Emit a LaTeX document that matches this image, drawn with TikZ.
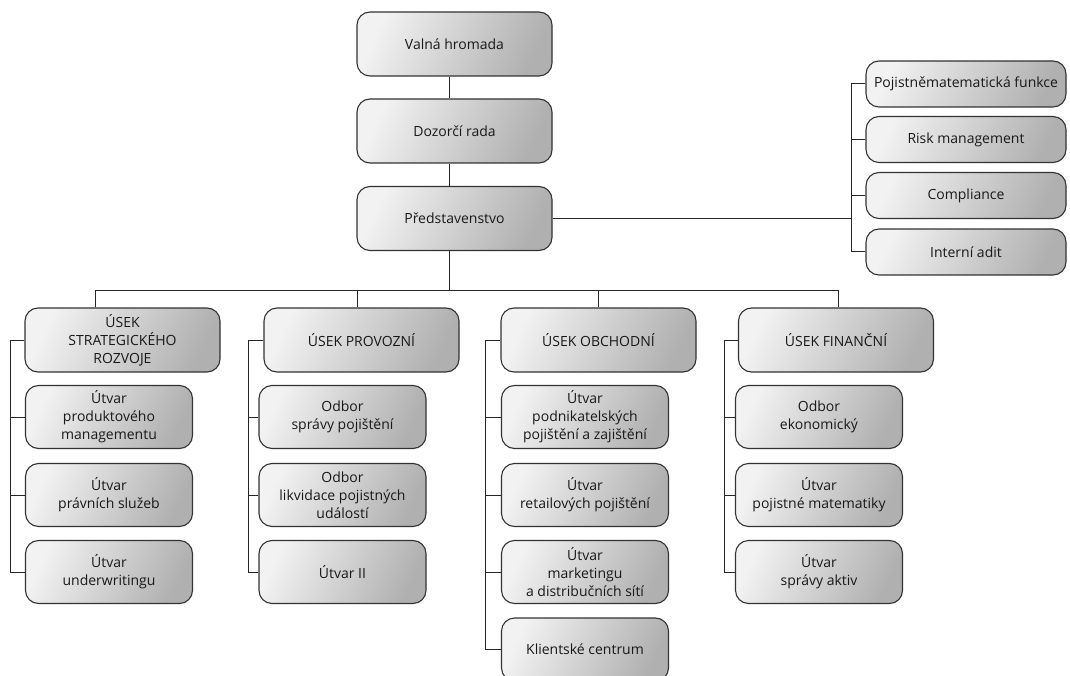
\documentclass[tikz,border=0pt]{standalone}
\usepackage{fontspec}
\setmainfont{Open Sans}
\begin{document}
\begin{tikzpicture}[x=1pt,y=-1pt,
  box/.style={draw=black!80, line width=1.1pt, rounded corners=13pt,
    left color=gray!10, right color=gray!62, shading angle=65,
    align=center, inner sep=2pt,
    font=\fontsize{14}{18}\selectfont, text=black!90},
  topbox/.style={box, minimum width=195pt, minimum height=64pt},
  headbox/.style={box, minimum width=195pt, minimum height=64pt},
  subbox/.style={box, minimum width=167pt, minimum height=63pt},
  sidebox/.style={box, minimum width=200pt, minimum height=46pt},
  conn/.style={draw=black!85, line width=1pt}]
\useasboundingbox (0,0) rectangle (1070,676);

% top
\node[topbox] (valna) at (454.5,44) {Valná hromada};
\node[topbox] (dozor) at (454.5,131) {Dozorčí rada};
\node[topbox] (pred) at (454.5,218.5) {Představenstvo};

% side
\node[sidebox] (s1) at (966,84) {Pojistněmatematická funkce};
\node[sidebox] (s2) at (966,139.5) {Risk management};
\node[sidebox] (s3) at (966,195.5) {Compliance};
\node[sidebox] (s4) at (966,252) {Interní adit};

% headers
\node[headbox] (h1) at (122.5,340) {ÚSEK\\STRATEGICKÉHO\\ROZVOJE};
\node[headbox] (h2) at (361.5,340) {ÚSEK PROVOZNÍ};
\node[headbox] (h3) at (598.5,340) {ÚSEK OBCHODNÍ};
\node[headbox] (h4) at (836,340) {ÚSEK FINANČNÍ};

% column 1
\node[subbox] (a1) at (109,417) {Útvar\\produktového\\managementu};
\node[subbox] (a2) at (109,495) {Útvar\\právních služeb};
\node[subbox] (a3) at (109,572) {Útvar\\underwritingu};
% column 2
\node[subbox] (b1) at (342.5,417) {Odbor\\správy pojištění};
\node[subbox] (b2) at (342.5,495) {Odbor\\likvidace pojistných\\událostí};
\node[subbox] (b3) at (342.5,572) {Útvar II};
% column 3
\node[subbox] (c1) at (585,417) {Útvar\\podnikatelských\\pojištění a zajištění};
\node[subbox] (c2) at (585,495) {Útvar\\retailových pojištění};
\node[subbox] (c3) at (585,572) {Útvar\\marketingu\\a distribučních sítí};
\node[subbox] (c4) at (585,649.5) {Klientské centrum};
% column 4
\node[subbox] (d1) at (819,417) {Odbor\\ekonomický};
\node[subbox] (d2) at (819,495) {Útvar\\pojistné matematiky};
\node[subbox] (d3) at (819,572) {Útvar\\správy aktiv};

% helper coordinates
\coordinate (tx) at (449,0);
\coordinate (bus) at (0,290);
\coordinate (sx) at (851,0);
\coordinate (k1) at (10,0);
\coordinate (k2) at (248,0);
\coordinate (k3) at (485,0);
\coordinate (k4) at (724,0);
\coordinate (dr1) at (95,0);
\coordinate (dr2) at (357,0);
\coordinate (dr3) at (598,0);
\coordinate (dr4) at (838,0);

% trunk
\draw[conn] (valna.south -| tx) -- (dozor.north -| tx);
\draw[conn] (dozor.south -| tx) -- (pred.north -| tx);
\draw[conn] (pred.south -| tx) -- (tx |- bus);

% side bracket
\draw[conn] (pred.east) -- (pred.east -| sx);
\draw[conn] (s1.west) -- (s1.west -| sx) -- (s4.west -| sx) -- (s4.west);
\draw[conn] (s2.west -| sx) -- (s2.west);
\draw[conn] (s3.west -| sx) -- (s3.west);

% bus
\draw[conn] (h1.north -| dr1) -- (dr1 |- bus) -- (dr4 |- bus) -- (h4.north -| dr4);
\draw[conn] (dr2 |- bus) -- (h2.north -| dr2);
\draw[conn] (dr3 |- bus) -- (h3.north -| dr3);

% column brackets
\draw[conn] (h1.west) -- (h1.west -| k1) -- (a3.west -| k1) -- (a3.west);
\draw[conn] (a1.west -| k1) -- (a1.west);
\draw[conn] (a2.west -| k1) -- (a2.west);

\draw[conn] (h2.west) -- (h2.west -| k2) -- (b3.west -| k2) -- (b3.west);
\draw[conn] (b1.west -| k2) -- (b1.west);
\draw[conn] (b2.west -| k2) -- (b2.west);

\draw[conn] (h3.west) -- (h3.west -| k3) -- (c4.west -| k3) -- (c4.west);
\draw[conn] (c1.west -| k3) -- (c1.west);
\draw[conn] (c2.west -| k3) -- (c2.west);
\draw[conn] (c3.west -| k3) -- (c3.west);

\draw[conn] (h4.west) -- (h4.west -| k4) -- (d3.west -| k4) -- (d3.west);
\draw[conn] (d1.west -| k4) -- (d1.west);
\draw[conn] (d2.west -| k4) -- (d2.west);
\end{tikzpicture}
\end{document}
